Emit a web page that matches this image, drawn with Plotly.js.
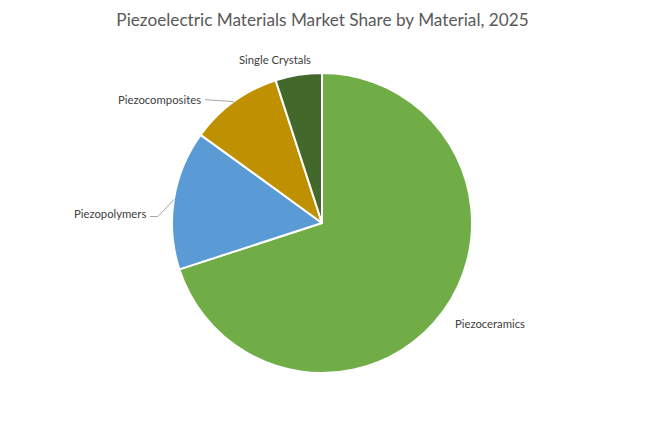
<!DOCTYPE html>
<html>
<head>
<meta charset="utf-8">
<script src="https://cdn.plot.ly/plotly-3.0.1.min.js"></script>
<style>html,body{margin:0;padding:0;background:#fff}#chart{width:645px;height:422px}</style>
</head>
<body>
<div id="chart"></div>
<script>
const categories = ["Piezoceramics", "Piezopolymers", "Piezocomposites", "Single Crystals"];
const shares = [70, 15, 10, 5];
const colors = ["#70AD47", "#5B9BD5", "#BF9000", "#43682B"];

const W = 645, H = 422;
const CX = 322, CY = 223, R = 150;
// label placement style (px offsets from slice mid-edge) and leader lines
const labelStyle = [
  {dx: 10, dy: 12, xanchor: "left", line: false},
  {dx: -26, dy: 14, xanchor: "right", line: true, elbow: [-16, 17]},
  {dx: -31, dy: -2, xanchor: "right", line: true, elbow: null},
  {dx: 14, dy: -15, xanchor: "right", line: false}
];

const px2x = p => p / W;
const px2y = p => 1 - p / H;

const total = shares.reduce((a, b) => a + b, 0);
const annotations = [];
const shapes = [];
let cum = 0;
shares.forEach((v, i) => {
  const mid = (cum + v / 2) / total * 2 * Math.PI;
  cum += v;
  const ex = CX + R * Math.sin(mid);
  const ey = CY - R * Math.cos(mid);
  const st = labelStyle[i];
  const lx = ex + st.dx, ly = ey + st.dy;
  annotations.push({
    text: categories[i], x: px2x(lx), y: px2y(ly), xref: "paper", yref: "paper",
    xanchor: st.xanchor, yanchor: "middle", showarrow: false,
    font: {family: "Lato, 'Open Sans', sans-serif", size: 11.3, color: "#404040"}
  });
  if (st.line) {
    let path;
    const endX = lx + 2;
    if (st.elbow) {
      const bx = ex + st.elbow[0], by = ey + st.elbow[1];
      path = `M ${px2x(ex)} ${px2y(ey)} L ${px2x(bx)} ${px2y(by)} L ${px2x(endX)} ${px2y(by)}`;
    } else {
      path = `M ${px2x(ex)} ${px2y(ey)} L ${px2x(endX)} ${px2y(ly)}`;
    }
    shapes.push({type: "path", xref: "paper", yref: "paper", path: path,
      line: {color: "#A6A6A6", width: 1}});
  }
});

const data = [{
  type: "pie",
  labels: categories,
  values: shares,
  sort: false,
  direction: "clockwise",
  rotation: 0,
  textinfo: "none",
  hoverinfo: "label+percent",
  marker: {colors: colors, line: {color: "#FFFFFF", width: 2}},
  domain: {x: [(CX - R) / W, (CX + R) / W], y: [1 - (CY + R) / H, 1 - (CY - R) / H]},
  automargin: false
}];

const layout = {
  width: W, height: H,
  margin: {l: 0, r: 0, t: 0, b: 0},
  paper_bgcolor: "#FFFFFF",
  showlegend: false,
  title: {text: "Piezoelectric Materials Market Share by Material, 2025",
    x: 0.5, xanchor: "center", y: 1 - 20 / H, yanchor: "middle",
    font: {family: "Lato, 'Open Sans', sans-serif", size: 17.2, color: "#595959"}},
  annotations: annotations,
  shapes: shapes
};

Plotly.newPlot("chart", data, layout, {displayModeBar: false, staticPlot: true});
</script>
</body>
</html>
